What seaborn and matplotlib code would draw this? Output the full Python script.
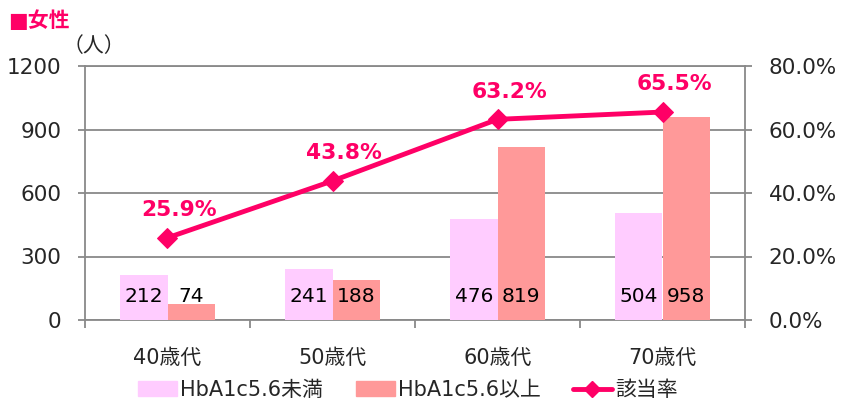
import numpy as np
import pandas as pd
import seaborn as sns
import matplotlib.pyplot as plt
from matplotlib.lines import Line2D
from matplotlib.patches import Patch

# data
categories = ["40歳代", "50歳代", "60歳代", "70歳代"]
below = [212, 241, 476, 504]
above = [74, 188, 819, 958]
rate = [25.9, 43.8, 63.2, 65.5]
series_names = ["HbA1c5.6未満", "HbA1c5.6以上", "該当率"]

pink = "#FFCCFF"
salmon = "#FF9999"
red = "#FF0066"
gray = "#898989"

sns.set_style("white")
plt.rcParams["font.family"] = ["DejaVu Sans", "Noto Sans CJK JP"]

df = pd.DataFrame({
    "age": categories * 2,
    "count": below + above,
    "group": [series_names[0]] * 4 + [series_names[1]] * 4,
})

fig = plt.figure(figsize=(8.41, 4.01), dpi=100)
ax = fig.add_axes([85 / 841, 1 - 320 / 401, 660 / 841, 254 / 401])

sns.barplot(data=df, x="age", y="count", hue="group", palette=[pink, salmon],
            width=0.57, gap=0, saturation=1, ax=ax, legend=False, zorder=3,
            linewidth=0, edgecolor="none")

ax.set_ylim(0, 1200)
ax.set_yticks([0, 300, 600, 900, 1200])
ax.set_xlim(-0.5, 3.5)
ax.grid(axis="y", color=gray, lw=1.3, zorder=0)
ax.set_xlabel("")
ax.set_ylabel("")
for s in ax.spines.values():
    s.set_color(gray)
    s.set_linewidth(1.3)
ax.tick_params(axis="y", labelsize=15.5, length=5, color=gray, width=1.3,
               direction="out", left=True, pad=12)
ax.tick_params(axis="x", labelsize=15, length=0, pad=20)
ax.set_xticks(np.arange(-0.5, 4, 1), minor=True)
ax.tick_params(axis="x", which="minor", length=6, color=gray, width=1.3, bottom=True)

# value labels inside bars
for cont, vals in zip(ax.containers, [below, above]):
    for bar, v in zip(cont, vals):
        ax.text(bar.get_x() + bar.get_width() / 2, 110, str(v), ha="center", va="center",
                fontsize=14.5, color="black", zorder=5)

ax2 = ax.twinx()
x = np.arange(len(categories))
sns.lineplot(x=x, y=rate, ax=ax2, color=red, lw=3.5, marker="D", markersize=10,
             markeredgecolor=red, zorder=4)
ax2.set_ylim(0, 80)
ax2.set_yticks([0, 20, 40, 60, 80])
ax2.set_yticklabels([f"{v:.1f}%" for v in [0, 20, 40, 60, 80]])
ax2.tick_params(axis="y", labelsize=15.5, length=5, color=gray, width=1.3, right=True, pad=12)
for s in ax2.spines.values():
    s.set_visible(False)
ax2.set_xlim(-0.5, 3.5)
for xi, r in zip(x, rate):
    ax2.annotate(f"{r:.1f}%", (xi, r), xytext=(8.5, 20), textcoords="offset points",
                 ha="center", va="center", fontsize=15.7, fontweight="bold", color=red)

fig.text(8 / 841, 1 - 21 / 401, "■女性", fontsize=15, fontweight="bold", color=red,
         va="center", ha="left")
fig.text(63 / 841, 1 - 46 / 401, "（人）", fontsize=15, va="center", ha="left")

handles = [Patch(color=pink), Patch(color=salmon),
           Line2D([], [], color=red, lw=3.5, marker="D", markersize=8)]
fig.legend(handles, series_names, loc="center", bbox_to_anchor=(408 / 841, 1 - 390 / 401),
           ncol=3, frameon=False, fontsize=15, handlelength=1.87, columnspacing=1.55,
           handletextpad=0.15, handleheight=0.7, borderpad=0)

fig.savefig("out.png", dpi=100)
